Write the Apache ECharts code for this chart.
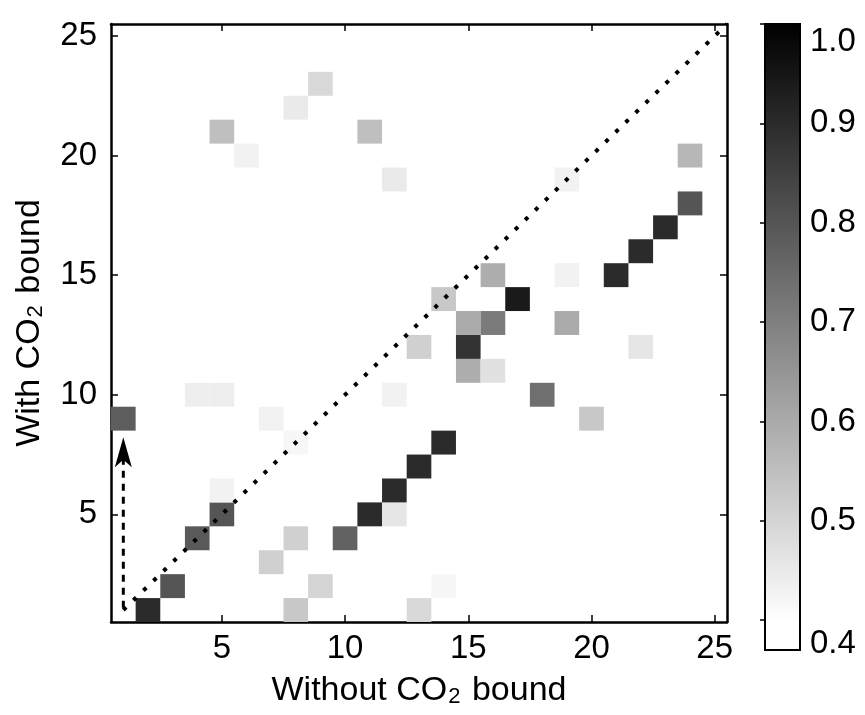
<!DOCTYPE html>
<html>
<head>
<meta charset="utf-8">
<script src="https://cdn.jsdelivr.net/npm/echarts@6/dist/echarts.min.js"></script>
<style>html,body{margin:0;padding:0;background:#fff}#c{width:865px;height:715px}</style>
</head>
<body>
<div id="c"></div>
<script>
// ---- data ----
const cellX = [1,2,3,4,5,5,4,5,5,6, 7,7,8,8,8,8,9,9,10,11, 12,12,13,14,11,12,12,13,13,14, 14,15,15,15,16,16,16,17,18,19, 19,19,20,21,22,23,24,24,22];
const cellY = [9,1,2,4,5,6,10,10,21,20, 3,9,1,4,8,22,2,23,4,5, 5,6,7,8,21,19,10,1,12,2, 14,11,12,13,11,13,15,14,10,13, 15,19,9,15,16,17,18,20,12];
const cellValue = [0.78,0.90,0.80,0.79,0.80,0.43,0.44,0.44,0.55,0.43,
                   0.51,0.43,0.53,0.51,0.42,0.45,0.50,0.49,0.77,0.90,
                   0.46,0.90,0.90,0.90,0.55,0.45,0.43,0.49,0.51,0.42,
                   0.53,0.59,0.88,0.60,0.47,0.71,0.59,0.94,0.74,0.60,
                   0.43,0.43,0.53,0.90,0.90,0.90,0.80,0.57,0.46];
const xTickValues = [5,10,15,20,25];
const yTickValues = [5,10,15,20,25];
const axisRange = [0.5, 25.5];
const colorRange = [0.4, 1.0];
const colorBarMin = 0.37;
const colorTickValues = [0.4,0.5,0.6,0.7,0.8,0.9,1.0];
const diagonalLine = [[1,1],[25.5,25.5]];
const arrowShaft = [[1,1.1],[1,7.6]];
const arrowHead = [1,7.6];
const xName = '{n|Without CO}{s|2}{n| bound}';
const yName = '{n|With CO}{s|2}{n| bound}';

// ---- chart ----
const FONT = "'Liberation Sans', Arial, Helvetica, sans-serif";
const chart = echarts.init(document.getElementById('c'), null, {renderer:'canvas'});
const cellData = cellX.map((x,i)=>[x, cellY[i], cellValue[i]]);

const tickStyle = {show:true, inside:true, length:7, lineStyle:{color:'#000', width:1.5}};
const lineStyle = {color:'#000', width:2.5};
const nameRich = {
  n:{fontSize:34, fontFamily:FONT, color:'#000'},
  s:{fontSize:22, fontFamily:FONT, color:'#000', verticalAlign:'bottom', padding:[0,2,0,1]}
};
const lbl = {fontSize:33, fontFamily:FONT, color:'#000'};
const arrowPath = 'path://M10,0 L20,30 L10,22.5 L0,30 Z';
const whiteStop = (colorRange[1]-colorRange[0])/(colorRange[1]-colorBarMin);

const option = {
  animation:false,
  backgroundColor:'#ffffff',
  grid:[
    {left:111, right:138, top:24, bottom:93},
    {left:765, top:24, width:35, height:626}
  ],
  visualMap:{
    type:'continuous', show:false, min:colorRange[0], max:colorRange[1],
    dimension:2, seriesIndex:0, inRange:{color:['#ffffff','#000000']}
  },
  xAxis:[
    {gridIndex:0, type:'value', min:axisRange[0], max:axisRange[1], position:'bottom',
     axisLine:{show:true, onZero:false, lineStyle},
     axisTick:Object.assign({customValues:xTickValues}, tickStyle),
     axisLabel:Object.assign({customValues:xTickValues, margin:10}, lbl),
     splitLine:{show:false},
     name:xName, nameLocation:'middle', nameGap:52,
     nameTextStyle:{rich:nameRich}},
    {gridIndex:0, type:'value', min:axisRange[0], max:axisRange[1], position:'top',
     axisLine:{show:true, onZero:false, lineStyle},
     axisTick:Object.assign({customValues:xTickValues}, tickStyle),
     axisLabel:{show:false}, splitLine:{show:false}},
    {gridIndex:1, type:'value', min:0, max:1, show:false}
  ],
  yAxis:[
    {gridIndex:0, type:'value', min:axisRange[0], max:axisRange[1], position:'left',
     axisLine:{show:true, onZero:false, lineStyle},
     axisTick:Object.assign({customValues:yTickValues}, tickStyle),
     axisLabel:Object.assign({customValues:yTickValues, margin:14}, lbl),
     splitLine:{show:false},
     name:yName, nameLocation:'middle', nameGap:64,
     nameTextStyle:{rich:nameRich}},
    {gridIndex:0, type:'value', min:axisRange[0], max:axisRange[1], position:'right',
     axisLine:{show:true, onZero:false, lineStyle},
     axisTick:Object.assign({customValues:yTickValues}, tickStyle),
     axisLabel:{show:false}, splitLine:{show:false}},
    {gridIndex:1, type:'value', min:colorBarMin, max:colorRange[1], position:'right',
     axisLine:{show:false},
     axisTick:{show:true, inside:true, length:5, customValues:colorTickValues, lineStyle:{color:'#000', width:1.5}},
     axisLabel:Object.assign({customValues:colorTickValues, margin:10,
       formatter:v=>{
         const t = v.toFixed(1);
         if (Math.abs(v-colorRange[0])<1e-6) return '{lo|'+t+'}';
         if (Math.abs(v-colorRange[1])<1e-6) return '{hi|'+t+'}';
         return t;
       },
       rich:{lo:Object.assign({padding:[48,0,0,0]}, lbl), hi:Object.assign({padding:[36,0,0,0]}, lbl)}}, lbl),
     splitLine:{show:false}}
  ],
  series:[
    {type:'custom', xAxisIndex:0, yAxisIndex:0, data:cellData, encode:{x:0,y:1},
     renderItem:(params, api)=>{
       const x = api.value(0), y = api.value(1);
       const p0 = api.coord([x-0.5, y+0.5]);
       const p1 = api.coord([x+0.5, y-0.5]);
       return {type:'rect', shape:{x:p0[0], y:p0[1], width:p1[0]-p0[0], height:p1[1]-p0[1]},
               style:{fill:api.visual('color')}};
     }, z:2},
    {type:'line', xAxisIndex:0, yAxisIndex:0, data:diagonalLine, symbol:'none', silent:true,
     lineStyle:{color:'#000', width:4, type:[4,10]}, z:5},
    {type:'line', xAxisIndex:0, yAxisIndex:0, data:arrowShaft, symbol:'none', silent:true,
     lineStyle:{color:'#000', width:3, type:[7,6]}, z:5},
    {type:'scatter', xAxisIndex:0, yAxisIndex:0, data:[arrowHead], symbol:arrowPath, symbolSize:[17,30],
     itemStyle:{color:'#000', opacity:1}, silent:true, z:6},
    {type:'custom', xAxisIndex:2, yAxisIndex:2, data:[[colorBarMin, colorRange[1]]],
     renderItem:(params, api)=>{
       const p0 = api.coord([0, api.value(1)]);
       const p1 = api.coord([1, api.value(0)]);
       return {type:'rect', shape:{x:p0[0], y:p0[1], width:p1[0]-p0[0], height:p1[1]-p0[1]},
         style:{fill:{type:'linear', x:0, y:0, x2:0, y2:1,
                      colorStops:[{offset:0, color:'#000000'},{offset:whiteStop, color:'#ffffff'},{offset:1, color:'#ffffff'}]},
                stroke:'#000', lineWidth:2}};
     }, z:1, silent:true}
  ]
};
chart.setOption(option);
</script>
</body>
</html>
